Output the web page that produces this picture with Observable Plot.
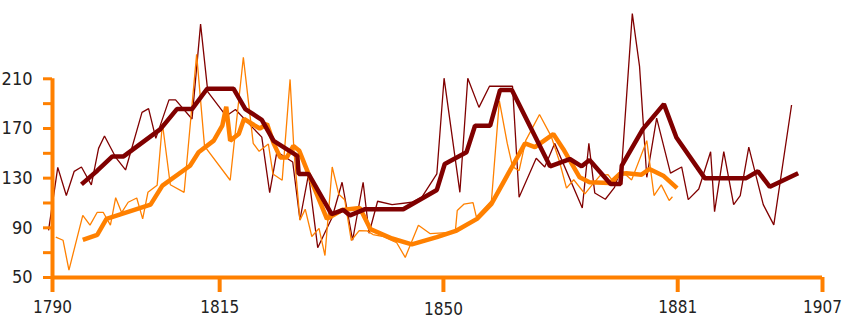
<!DOCTYPE html>
<html>
<head>
<meta charset="utf-8">
<script src="https://cdn.jsdelivr.net/npm/d3@7"></script>
<script src="https://cdn.jsdelivr.net/npm/@observablehq/plot@0.6"></script>
<style>
  body { margin: 0; background: #fff; }
  #chart svg { display: block; }
</style>
</head>
<body>
<div id="chart"></div>
<script>
// x = observation number along the period axis, y = value
const tickYears = ["1790", "1815", "1850", "1881", "1907"];
const tickObs = [0, 25.4, 59.4, 95, 117];
const yTickValues = [50, 70, 90, 110, 130, 150, 170, 190, 210];
const yTickLabels = [50, 90, 130, 170, 210];

const redAnnual = [
  [-0.6, 88], [0.8, 138.7], [2.1, 116], [3.3, 135.5], [4.4, 139], [5.9, 124.6], [7.0, 154], [7.9, 164],
  [9.6, 146.8], [11.1, 136.6], [13.6, 183], [14.6, 186], [15.7, 162], [17.7, 193], [18.7, 193], [21.2, 177.6],
  [22.5, 254], [23.6, 199.5], [26.4, 180], [27.8, 185.3], [31.8, 163], [33.0, 118.3], [34.1, 151.3], [36.5, 143],
  [37.6, 96.5], [38.9, 133], [40.3, 74], [42.5, 98.5], [44.0, 126.7], [45.6, 80], [47.2, 126.7], [48.1, 85.6],
  [49.4, 111.4], [51.6, 108.7], [54.6, 110.6], [56.1, 114.6], [58.4, 133.4], [59.5, 210.5], [61.9, 118.6],
  [63.1, 210.5], [64.8, 187], [66.4, 204], [69.9, 204], [70.9, 114.6], [73.5, 146], [74.8, 139], [76.3, 158],
  [80.5, 106], [81.5, 158], [82.4, 118], [84.0, 113], [85.4, 122.6], [86.5, 140], [88.1, 262.5], [89.2, 220],
  [90.3, 130.7], [91.8, 178.4], [93.9, 134], [95.6, 139], [96.6, 112.7], [98.2, 121.3], [100.0, 151.3],
  [100.6, 103], [102.0, 151.3], [103.5, 108.7], [104.5, 116], [105.8, 155], [108.0, 108.7], [109.6, 92.4],
  [112.3, 188.9]
];

const redTrend = [
  [4.4, 125], [6.8, 136], [9.1, 147.5], [10.8, 147.5], [16.4, 169.5], [18.9, 185.6], [21.2, 185.6], [23.5, 202],
  [27.5, 202], [29.3, 185.6], [31.8, 177], [33.6, 160], [37.2, 148], [37.4, 133.4], [38.9, 133.4], [42.4, 101],
  [44.2, 104.4], [45.2, 100], [47.5, 105], [53.3, 105], [58.4, 120.5], [59.6, 141.4], [62.9, 150.8], [64.2, 172.2],
  [66.5, 172.2], [68.0, 201], [69.8, 201], [75.6, 139.5], [78.6, 145.4], [80.4, 139.5], [81.6, 144.6],
  [84.8, 125.3], [86.3, 125.3], [86.5, 140], [89.7, 169.5], [92.9, 189.6], [94.8, 162.8], [99.1, 130],
  [105.4, 130], [107.2, 135.5], [109.0, 123], [113.3, 134]
];

const orangeAnnual = [
  [0.5, 82.5], [1.6, 80], [2.5, 56], [4.6, 100], [5.7, 92.2], [6.8, 102.5], [7.7, 102.5], [8.8, 92.2],
  [9.6, 114.3], [10.5, 102.3], [11.5, 110.6], [12.8, 114], [13.7, 97.2], [14.5, 118.6], [15.9, 124.3],
  [16.7, 174], [17.9, 124.7], [20.0, 118.6], [21.9, 229.8], [23.1, 155.8], [27.0, 128.3], [29.0, 227.3],
  [30.5, 158], [31.4, 151.6], [32.8, 157.5], [33.5, 133.4], [34.9, 128.3], [36.1, 209.5], [36.7, 151.2],
  [37.6, 96.2], [38.4, 105], [39.4, 83], [40.5, 89.6], [41.4, 67.7], [42.5, 139], [43.5, 117], [44.4, 112.6],
  [45.4, 79.8], [46.6, 87.8], [47.8, 87.5], [48.7, 84.6], [50.1, 83.2], [52.3, 78], [53.6, 66.2], [55.6, 92.1],
  [57.4, 85.3], [61.2, 86.5], [61.5, 104], [62.5, 109], [63.9, 110.3], [64.4, 98.8], [66.7, 111.8],
  [67.9, 192.3], [69.1, 158], [69.9, 139.3], [70.9, 136], [71.9, 160.2], [74.0, 181.3], [75.8, 163.4],
  [77.0, 144], [78.1, 122], [79.2, 128.7], [80.9, 117.3], [81.9, 124], [83.2, 132], [84.4, 132.8], [85.4, 126],
  [86.3, 136.6], [88.0, 128.6], [90.3, 160.2], [91.4, 116], [92.5, 124.6], [93.7, 112], [94.2, 115]
];

const orangeTrend = [
  [4.6, 80.3], [6.8, 84.4], [8.2, 97.2], [14.9, 108.7], [16.7, 124], [20.9, 140], [22.2, 150.8], [24.5, 160.2],
  [25.8, 172.2], [26.4, 187.5], [27.0, 160.2], [28.3, 165.5], [29.1, 177.6], [31.5, 170], [32.6, 173.6],
  [33.6, 158], [34.6, 146.7], [35.6, 146.7], [36.6, 156], [37.5, 152], [38.9, 133.4], [41.7, 97.2], [44.0, 104.4],
  [46.7, 106], [48.3, 89], [51.6, 81.4], [54.6, 76.7], [58.4, 82.5], [61.4, 87.8], [64.5, 97.2], [66.7, 109.3],
  [69.5, 136], [71.8, 158], [73.3, 155], [76.1, 165.5], [77.6, 153.5], [80.1, 130.7], [81.6, 126.7], [84.7, 126],
  [86.2, 133.4], [87.2, 134], [89.5, 132.8], [90.7, 137.4], [92.8, 132], [94.9, 122]
];

const RED = "#800000";
const ORANGE = "#ff8000";
const TEXT = "#222";
const FONT = "'Liberation Sans Narrow', 'DejaVu Sans Condensed', 'Liberation Sans', sans-serif";

const labelFor = d => tickYears[tickObs.indexOf(d)];
const lineOpts = (stroke, strokeWidth) => ({
  x: d => d[0], y: d => d[1], stroke, strokeWidth,
  strokeLinejoin: "miter", strokeLinecap: "butt", curve: "linear"
});

const chart = Plot.plot({
  width: 858,
  height: 318,
  marginLeft: 52,
  marginRight: 36,
  marginTop: 10,
  marginBottom: 41,
  x: {domain: [0, 117], axis: null},
  y: {domain: [50, 265], axis: null},
  style: {fontFamily: FONT, background: "#fff", overflow: "visible"},
  marks: [
    Plot.line(redAnnual, lineOpts(RED, 1.3)),
    Plot.line(orangeAnnual, lineOpts(ORANGE, 1.3)),
    Plot.line(orangeTrend, lineOpts(ORANGE, 4.5)),
    Plot.line(redTrend, lineOpts(RED, 4.5)),
    Plot.ruleY([50], {x1: 0, x2: 117, stroke: ORANGE, strokeWidth: 4}),
    Plot.ruleX([0], {y1: 50, y2: 210, stroke: ORANGE, strokeWidth: 4}),
    Plot.axisY(yTickValues, {
      anchor: "left", tickSize: 9, tickPadding: 11, stroke: ORANGE, strokeWidth: 3,
      fill: TEXT, fontSize: 18, fontFamily: FONT,
      tickFormat: d => yTickLabels.includes(d) ? String(d) : ""
    }),
    Plot.axisX(tickObs.filter(d => labelFor(d) !== "1850"), {
      anchor: "bottom", tickSize: 15, tickPadding: 8, stroke: ORANGE, strokeWidth: 4,
      fill: TEXT, fontSize: 17, fontFamily: FONT, tickFormat: labelFor
    }),
    Plot.axisX(tickObs.filter(d => labelFor(d) === "1850"), {
      anchor: "bottom", tickSize: 15, tickPadding: 10, stroke: ORANGE, strokeWidth: 4,
      fill: TEXT, fontSize: 17, fontFamily: FONT, tickFormat: labelFor
    })
  ]
});

document.getElementById("chart").appendChild(chart);
</script>
</body>
</html>
